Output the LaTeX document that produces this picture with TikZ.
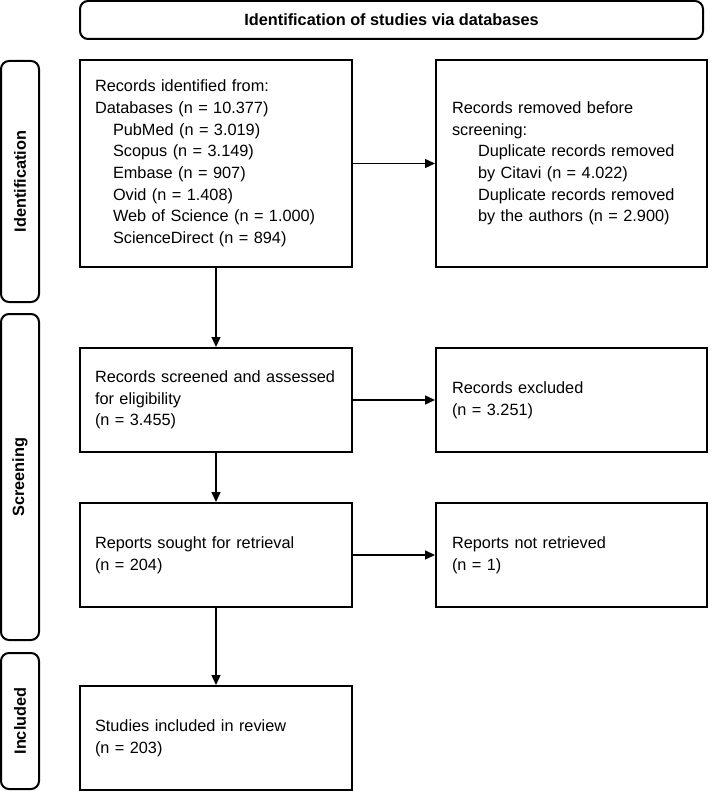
\documentclass[tikz,border=0pt]{standalone}
\usepackage{fontspec}
\setmainfont{Liberation Sans}
\usetikzlibrary{arrows.meta}
\begin{document}
\begin{tikzpicture}[x=1pt,y=-1pt,
  every node/.style={font=\fontsize{16.3}{21.7}\selectfont},
  lbox/.style={draw=black, line width=2pt, rectangle, align=left,
    text width=242pt, inner xsep=15pt, inner ysep=0pt, minimum width=272pt},
  rbox/.style={draw=black, line width=2pt, rectangle, align=left,
    text width=239pt, inner xsep=16pt, inner ysep=0pt, minimum width=271pt},
  side/.style={draw=black, line width=2pt, rounded corners=8pt},
  sidelabel/.style={rotate=90, font=\fontsize{16.3}{21.7}\selectfont\bfseries},
  arr/.style={line width=1.3pt, -{Triangle[length=10pt,width=9pt]}}
]
\useasboundingbox (0,0) rectangle (709,791);

% header
\draw[side] (80,1) rectangle (703,39);
\node[font=\fontsize{16.3}{21.7}\selectfont\bfseries] (hdr) at (391.5,20) {Identification of studies via databases};

% side labels
\draw[side] (1,61) rectangle (39,302);
\node[sidelabel] (sid) at (20,181.5) {Identification};
\draw[side] (1,314) rectangle (39,640);
\node[sidelabel] (sscr) at (20,477) {Screening};
\draw[side] (1,653) rectangle (39,789);
\node[sidelabel] (sinc) at (20,721) {Included};

% main boxes
\node[lbox, minimum height=207pt] (ident) at (216,163.5) {Records identified from:\\
Databases (n = 10.377)\\
\hspace*{18pt}PubMed (n = 3.019)\\
\hspace*{18pt}Scopus (n = 3.149)\\
\hspace*{18pt}Embase (n = 907)\\
\hspace*{18pt}Ovid (n = 1.408)\\
\hspace*{18pt}Web of Science (n = 1.000)\\
\hspace*{18pt}ScienceDirect (n = 894)};

\node[rbox, minimum height=207pt] (remov) at (571.5,163.5) {Records removed before\\
screening:\\
\hspace*{26pt}Duplicate records removed\\
\hspace*{26pt}by Citavi (n = 4.022)\\
\hspace*{26pt}Duplicate records removed\\
\hspace*{26pt}by the authors (n = 2.900)};

\node[lbox, minimum height=104pt] (scr) at (216,400) {Records screened and assessed\\
for eligibility\\
(n = 3.455)};

\node[rbox, minimum height=104pt] (excl) at (571.5,400) {Records excluded\\
(n = 3.251)};

\node[lbox, minimum height=104pt] (sought) at (216,555) {Reports sought for retrieval\\
(n = 204)};

\node[rbox, minimum height=104pt] (notret) at (571.5,555) {Reports not retrieved\\
(n = 1)};

\node[lbox, minimum height=104pt] (incl) at (216,738) {Studies included in review\\
(n = 203)};

% connectors
\draw[arr] (ident.east) -- (remov.west);
\draw[arr] (ident.south) -- (scr.north);
\draw[arr] (scr.east) -- (excl.west);
\draw[arr] (scr.south) -- (sought.north);
\draw[arr] (sought.east) -- (notret.west);
\draw[arr] (sought.south) -- (incl.north);
\end{tikzpicture}
\end{document}
